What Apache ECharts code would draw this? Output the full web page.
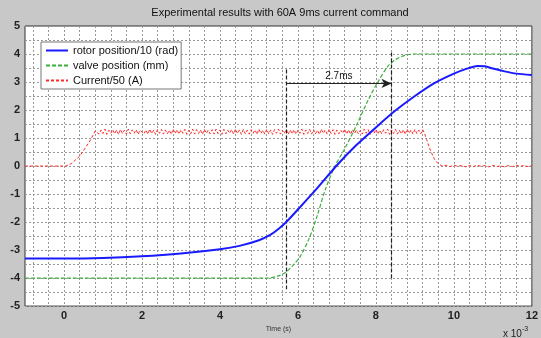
<!DOCTYPE html>
<html><head><meta charset="utf-8">
<script src="https://cdn.jsdelivr.net/npm/echarts@6/dist/echarts.min.js"></script>
<style>html,body{margin:0;padding:0;background:#c8c8c8}#c{width:541px;height:338px}</style>
</head><body><div id="c"></div>
<script>
const titleText = 'Experimental results with 60A 9ms current command';
const xLabelTicks = [0, 2, 4, 6, 8, 10, 12];
const xGridTicks = [-0.8,-0.4,0,0.4,0.8,1.2,1.6,2,2.4,2.8,3.2,3.6,4,4.4,4.8,5.2,5.6,6,6.4,6.8,7.2,7.6,8,8.4,8.8,9.2,9.6,10,10.4,10.8,11.2,11.6,12];
const seriesNames = ['rotor position/10 (rad)', 'valve position (mm)', 'Current/50 (A)'];

const rotorT = [-1, 0, 1, 2, 3, 4, 4.5, 5, 5.3, 5.5, 5.7, 6, 6.5, 7, 7.5, 8, 8.5, 9, 9.5, 10, 10.3, 10.6, 10.8, 11, 11.3, 11.6, 12];
const rotorV = [-3.3, -3.3, -3.28, -3.22, -3.12, -2.97, -2.85, -2.65, -2.45, -2.25, -2.0, -1.55, -0.78, 0.03, 0.75, 1.38, 1.98, 2.5, 2.96, 3.3, 3.46, 3.57, 3.56, 3.48, 3.38, 3.3, 3.25];

const valveT = [-1, 5.2, 5.5, 5.7, 5.9, 6.05, 6.3, 6.5, 6.7, 6.95, 7.2, 7.5, 7.8, 8.05, 8.3, 8.5, 8.75, 9.0, 12];
const valveV = [-4, -4, -3.92, -3.78, -3.5, -3.25, -2.54, -1.75, -0.85, 0.0, 0.62, 1.45, 2.35, 3.0, 3.55, 3.8, 3.95, 4.0, 4.0];

const currentT = [-1, -0.5, 0.05, 0.2, 0.4, 0.55, 0.7, 0.8,
 0.85,0.9,0.95,1.0,1.05,1.1,1.15,1.2,1.25,1.3,1.35,1.4,1.45,1.5,1.55,1.6,1.65,1.7,1.75,1.8,1.85,1.9,1.95,
 2.0,2.05,2.1,2.15,2.2,2.25,2.3,2.35,2.4,2.45,2.5,2.55,2.6,2.65,2.7,2.75,2.8,2.85,2.9,2.95,
 3.0,3.05,3.1,3.15,3.2,3.25,3.3,3.35,3.4,3.45,3.5,3.55,3.6,3.65,3.7,3.75,3.8,3.85,3.9,3.95,
 4.0,4.05,4.1,4.15,4.2,4.25,4.3,4.35,4.4,4.45,4.5,4.55,4.6,4.65,4.7,4.75,4.8,4.85,4.9,4.95,
 5.0,5.05,5.1,5.15,5.2,5.25,5.3,5.35,5.4,5.45,5.5,5.55,5.6,5.65,5.7,5.75,5.8,5.85,5.9,5.95,
 6.0,6.05,6.1,6.15,6.2,6.25,6.3,6.35,6.4,6.45,6.5,6.55,6.6,6.65,6.7,6.75,6.8,6.85,6.9,6.95,
 7.0,7.05,7.1,7.15,7.2,7.25,7.3,7.35,7.4,7.45,7.5,7.55,7.6,7.65,7.7,7.75,7.8,7.85,7.9,7.95,
 8.0,8.05,8.1,8.15,8.2,8.25,8.3,8.35,8.4,8.45,8.5,8.55,8.6,8.65,8.7,8.75,8.8,8.85,8.9,8.95,
 9.0,9.05,9.1,9.15,9.2,
 9.25,9.3,9.4,9.5,9.6,9.7,
 9.8,9.9,10.0,10.1,10.2,10.3,10.4,10.5,10.6,10.7,10.8,10.9,11.0,11.1,11.2,11.3,11.4,11.5,11.6,11.7,11.8,11.9,12.0];
const currentV = [0, 0, 0, 0.1, 0.35, 0.65, 0.98, 1.25,
 1.31,1.14,1.29,1.16,1.32,1.13,1.28,1.17,1.30,1.15,1.29,1.13,1.31,1.16,1.28,1.14,1.32,1.15,1.29,1.17,1.30,1.13,1.28,
 1.31,1.15,1.29,1.14,1.32,1.16,1.28,1.13,1.30,1.17,1.31,1.14,1.29,1.15,1.28,1.13,1.32,1.16,1.30,1.14,
 1.29,1.17,1.31,1.13,1.28,1.15,1.32,1.14,1.30,1.16,1.29,1.13,1.31,1.17,1.28,1.15,1.30,1.14,1.32,1.16,
 1.29,1.13,1.31,1.15,1.28,1.17,1.30,1.14,1.32,1.16,1.29,1.13,1.31,1.15,1.28,1.14,1.30,1.17,1.29,1.13,
 1.32,1.16,1.28,1.14,1.31,1.15,1.29,1.13,1.30,1.17,1.32,1.14,1.28,1.16,1.31,1.13,1.29,1.15,1.30,1.14,
 1.28,1.17,1.32,1.13,1.29,1.16,1.31,1.14,1.30,1.15,1.28,1.13,1.32,1.17,1.29,1.14,1.31,1.16,1.30,1.13,
 1.29,1.15,1.28,1.17,1.32,1.14,1.30,1.13,1.31,1.16,1.29,1.15,1.28,1.14,1.32,1.17,1.30,1.13,1.29,1.16,
 1.31,1.14,1.28,1.15,1.30,1.17,1.32,1.13,1.29,1.16,1.31,1.14,1.28,1.15,1.30,1.13,1.32,1.17,1.29,1.14,
 1.31,1.16,1.28,1.15,1.30,
 1.15,0.95,0.55,0.25,0.08,0.0,
 0.03,-0.02,0.03,-0.01,0.02,-0.03,0.02,-0.02,0.03,-0.01,0.02,-0.03,0.03,-0.02,0.01,-0.03,0.02,-0.02,0.03,-0.01,0.02,-0.02,0.02];

const markerStartT = 5.7, markerEndT = 8.4;
const markerLabel = '2.7ms';

const pairs = (t, v) => t.map((x, i) => [x, v[i]]);
const chart = echarts.init(document.getElementById('c'), null, {renderer: 'canvas'});
const ff = 'Liberation Sans, Arial, sans-serif';
chart.setOption({
  animation: false,
  backgroundColor: '#c8c8c8',
  textStyle: {fontFamily: ff},
  grid: {left: 25, right: 5, top: 26, bottom: 28, show: true, backgroundColor: '#fff', borderColor: '#333', borderWidth: 1, containLabel: false},
  legend: {
    orient: 'vertical', left: 41, top: 42, data: seriesNames,
    backgroundColor: '#fff', borderColor: '#777', borderWidth: 1, padding: [3, 3, 3, 4],
    itemWidth: 22, itemHeight: 10, itemGap: 4,
    itemStyle: {opacity: 0},
    textStyle: {fontSize: 11, color: '#111', fontFamily: ff}
  },
  xAxis: {
    type: 'value', min: -1, max: 12,
    name: 'Time (s)', nameLocation: 'middle', nameGap: 14,
    nameTextStyle: {fontSize: 7, color: '#333'},
    axisLine: {show: false},
    axisTick: {show: false, customValues: xGridTicks},
    axisLabel: {customValues: xLabelTicks, fontSize: 11, fontWeight: 'bold', color: '#222', margin: 4},
    splitLine: {show: true, lineStyle: {color: '#999', type: [2, 2], width: 1}}
  },
  yAxis: {
    type: 'value', min: -5, max: 5, interval: 0.5,
    axisLine: {show: false}, axisTick: {show: false},
    axisLabel: {fontSize: 11, fontWeight: 'bold', color: '#222', margin: 5,
      formatter: v => (Math.abs(v - Math.round(v)) < 1e-6 ? String(v) : '')},
    splitLine: {show: true, lineStyle: {color: '#999', type: [2, 2], width: 1}}
  },
  series: [
    {name: seriesNames[0], type: 'line', data: pairs(rotorT, rotorV), smooth: 0.25, symbol: 'none',
     lineStyle: {color: '#1a1aff', width: 2}, itemStyle: {color: '#1a1aff'}, z: 5,
     markLine: {
       silent: true, animation: false,
       lineStyle: {color: '#222', type: [4, 2], width: 1.2},
       label: {show: false},
       data: [
         [{coord: [markerStartT, 3.45], symbol: 'none'}, {coord: [markerStartT, -4.4], symbol: 'none'}],
         [{coord: [markerEndT, 4.05], symbol: 'none'}, {coord: [markerEndT, -4.0], symbol: 'none'}],
         [{coord: [markerStartT, 2.95], symbol: 'none', lineStyle: {type: 'solid', color: '#222', width: 1}},
          {coord: [markerEndT, 2.95], symbol: 'arrow', symbolSize: [7, 10],
           label: {show: true, position: 'insideMiddleTop', formatter: markerLabel, fontSize: 10, color: '#111', distance: 2}}]
       ]
     }},
    {name: seriesNames[1], type: 'line', data: pairs(valveT, valveV), smooth: 0.3, symbol: 'none',
     lineStyle: {color: '#3cae3c', width: 1.2, type: [4, 2]}, itemStyle: {color: '#3cae3c'}, z: 4},
    {name: seriesNames[2], type: 'line', data: pairs(currentT, currentV), symbol: 'none',
     lineStyle: {color: '#ff2a2a', width: 1, type: [3, 2]}, itemStyle: {color: '#ff2a2a'}, z: 3}
  ],
  graphic: [
    {type: 'text', x: 280, y: 13, style: {text: titleText, fontSize: 11, fill: '#111', fontFamily: ff, align: 'center', verticalAlign: 'middle'}},
    {type: 'text', x: 503, y: 323, style: {text: '{a|x 10}{b|-3}', fontFamily: ff, fill: '#222',
      rich: {a: {fontSize: 10, color: '#222', padding: [6, 0, 0, 0]}, b: {fontSize: 7, color: '#222', padding: [0, 0, 4, 0]}}}}
  ]
});
</script></body></html>
